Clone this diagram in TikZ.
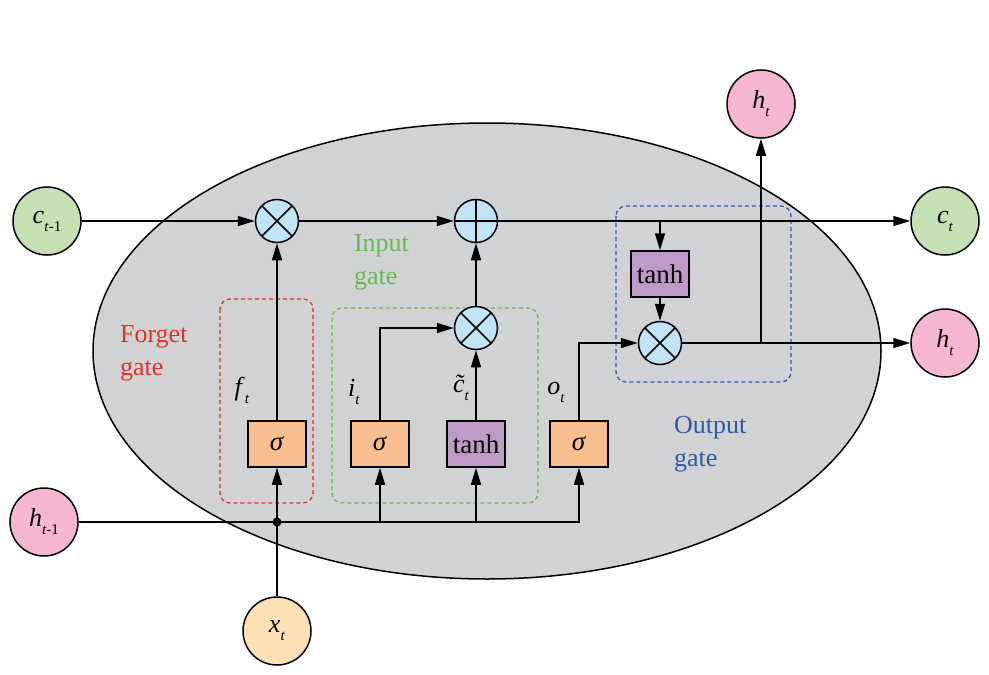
\documentclass[tikz,border=0pt]{standalone}
\usepackage{fontspec}
\setmainfont{Liberation Serif}
\usetikzlibrary{arrows.meta}
\definecolor{cellgray}{RGB}{209,210,212}
\definecolor{cgreen}{RGB}{197,224,180}
\definecolor{hpink}{RGB}{244,182,209}
\definecolor{xpeach}{RGB}{253,223,182}
\definecolor{opblue}{RGB}{192,228,246}
\definecolor{sigorange}{RGB}{249,190,142}
\definecolor{tanhpurple}{RGB}{191,154,200}
\definecolor{forgetred}{RGB}{226,50,40}
\definecolor{inputgreen}{RGB}{104,184,84}
\definecolor{outputblue}{RGB}{52,88,168}
\newcommand{\sublbl}[2]{\textit{#1}\raisebox{-8pt}{\fontsize{15}{15}\selectfont\textit{t}#2}}
\newcommand{\ctilde}{\ooalign{c\cr\hidewidth{\char"02DC}\hidewidth}}
\begin{document}
\begin{tikzpicture}[x=1pt,y=-1pt,line width=1.5pt,
  arr/.style={-{Triangle[length=17pt,width=10pt]}},
  io/.style={circle,draw,minimum size=68pt,inner sep=0pt,font=\fontsize{26}{26}\selectfont},
  op/.style={circle,draw,fill=opblue,minimum size=43pt,inner sep=0pt},
  mul/.style={op,path picture={\draw (path picture bounding box.north west)--(path picture bounding box.south east)
    (path picture bounding box.north east)--(path picture bounding box.south west);}},
  plus/.style={op,path picture={\draw (path picture bounding box.north)--(path picture bounding box.south)
    (path picture bounding box.east)--(path picture bounding box.west);}},
  act/.style={draw,minimum width=58pt,minimum height=46pt,inner sep=0pt,font=\fontsize{27}{27}\selectfont},
  gatebox/.style={line width=1.3pt,dash pattern=on 4pt off 3pt,rounded corners=10pt},
  gatetxt/.style={anchor=west,align=left,font=\fontsize{26}{33}\selectfont},
  lbl/.style={font=\fontsize{26}{26}\selectfont}]
\useasboundingbox (0,0) rectangle (989,675);
% cell body
\filldraw[fill=cellgray] (487,351) ellipse [x radius=394pt,y radius=228pt];
% gate frames
\draw[gatebox,forgetred] (220,299) rectangle (313,503);
\draw[gatebox,inputgreen] (332,308) rectangle (538,503);
\draw[gatebox,outputblue] (616,206) rectangle (791,382);
\node[gatetxt,text=forgetred] (fgt) at (116,353) {Forget\\gate};
\node[gatetxt,text=inputgreen] (igt) at (350,262) {Input\\gate};
\node[gatetxt,text=outputblue] (ogt) at (670,444) {Output\\gate};
% inputs and outputs
\node[io,fill=cgreen] (cprev) at (47,221) {\sublbl{c}{-1}};
\node[io,fill=hpink] (hprev) at (44,522) {\sublbl{h}{-1}};
\node[io,fill=xpeach] (xt) at (277,631) {\sublbl{x}{}};
\node[io,fill=hpink] (htop) at (761,104) {\sublbl{h}{}};
\node[io,fill=cgreen] (ct) at (945,221) {\sublbl{c}{}};
\node[io,fill=hpink] (hout) at (945,343) {\sublbl{h}{}};
% pointwise ops
\node[mul] (m1) at (277,221) {};
\node[plus] (add) at (476,221) {};
\node[mul] (m2) at (476,328) {};
\node[mul] (m3) at (660,343) {};
% layers
\node[act,fill=sigorange] (sf) at (277,444) {\textit{σ}};
\node[act,fill=sigorange] (si) at (380,444) {\textit{σ}};
\node[act,fill=tanhpurple] (tc) at (476,444) {tanh};
\node[act,fill=sigorange] (so) at (579,444) {\textit{σ}};
\node[act,fill=tanhpurple] (th) at (660,274) {tanh};
\node[lbl] (ft) at (242,390) {\sublbl{f}{}};
\node[lbl] (it) at (354,392) {\sublbl{i}{}};
\node[lbl] (ctl) at (461,390) {\sublbl{\ctilde}{}};
\node[lbl] (ot) at (556,392) {\sublbl{o}{}};
\fill (277,522) circle (4.5pt) coordinate (dot);
% cell state
\draw[arr] (cprev) -- (m1);
\draw[arr] (m1) -- (add);
\draw[arr] (add) -- (ct);
\draw[arr] (th |- add) -- (th);
\draw[arr] (th) -- (m3);
% gates
\draw[arr] (sf) -- (m1);
\draw[arr] (si.north) |- (m2);
\draw[arr] (tc) -- (m2);
\draw[arr] (m2) -- (add);
\draw[arr] (so.north) |- (m3);
\draw[arr] (m3) -- (hout);
\draw[arr] (htop |- m3) -- (htop);
% inputs
\draw[arr] (hprev) -| (so);
\draw[arr] (si |- hprev) -- (si);
\draw[arr] (tc |- hprev) -- (tc);
\draw (xt) -- (dot);
\draw[arr] (dot) -- (sf);
\end{tikzpicture}
\end{document}
